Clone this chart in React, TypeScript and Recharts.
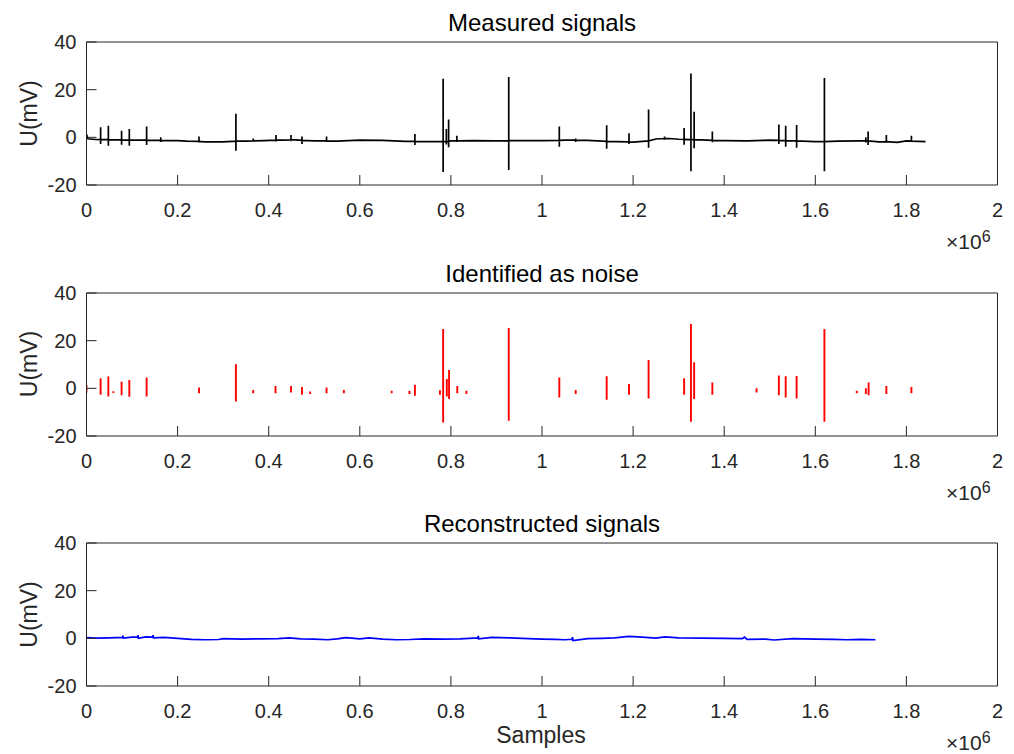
import { LineChart, Line, XAxis, YAxis } from "recharts";

// x values are in units of 1e6 samples
const xTicks = [0, 0.2, 0.4, 0.6, 0.8, 1, 1.2, 1.4, 1.6, 1.8, 2];
const yTicks = [-20, 0, 20, 40];
const titles = ["Measured signals", "Identified as noise", "Reconstructed signals"];

// slow baseline of the measured signal: [x, U]
const measuredBase: [number, number][] = [
  [0, 1.3], [0.003, -0.6], [0.02, -0.9], [0.065, -1.1], [0.11, -1.2], [0.15, -1.3],
  [0.2, -1.4], [0.22, -1.6], [0.26, -1.9], [0.3, -1.9], [0.35, -1.6], [0.39, -1.4],
  [0.43, -1.2], [0.46, -1.1], [0.5, -1.5], [0.55, -1.6], [0.6, -1.2], [0.65, -1.3],
  [0.7, -1.7], [0.75, -1.8], [0.8, -1.5], [0.85, -1.4], [0.9, -1.5], [0.95, -1.4],
  [1.0, -1.4], [1.05, -1.2], [1.1, -1.3], [1.16, -1.8], [1.2, -2.0], [1.25, -0.7],
  [1.28, -0.5], [1.3, -0.8], [1.35, -1.1], [1.4, -1.4], [1.45, -1.5], [1.5, -1.2],
  [1.55, -1.5], [1.6, -1.8], [1.65, -1.6], [1.7, -1.5], [1.74, -1.9], [1.78, -2.1],
  [1.8, -1.5], [1.842, -1.8],
];

// spikes in the measured signal: [x, baseline, top, bottom]
const measuredSpikes: [number, number, number, number][] = [
  [0.031, -1.0, 4.2, -2.8], [0.048, -1.0, 4.9, -3.5], [0.077, -1.1, 2.8, -3.1],
  [0.094, -1.2, 3.5, -3.5], [0.132, -1.2, 4.5, -3.2], [0.163, -1.3, 0.0, -2.0],
  [0.247, -1.7, 0.3, -2.2], [0.328, -1.6, 9.9, -5.6], [0.366, -1.5, -0.5, -2.0],
  [0.416, -1.2, 1.0, -1.8], [0.449, -1.1, 1.0, -1.6], [0.473, -1.3, 0.4, -2.8],
  [0.527, -1.5, 0.3, -2.0], [0.721, -1.7, 1.4, -3.2], [0.783, -1.8, 24.6, -14.5],
  [0.79, -1.8, 3.5, -3.0], [0.795, -1.7, 7.5, -4.2], [0.813, -1.5, 0.7, -2.0],
  [0.927, -1.4, 25.3, -13.7], [1.038, -1.3, 4.5, -3.9], [1.074, -1.2, -0.5, -2.0],
  [1.142, -1.7, 5.1, -4.8], [1.191, -1.9, 1.7, -2.8], [1.234, -1.5, 11.7, -4.4],
  [1.269, -0.5, 0.4, -1.0], [1.312, -0.9, 3.9, -3.1], [1.327, -1.0, 26.8, -14.2],
  [1.334, -1.0, 10.7, -4.6], [1.374, -1.3, 2.4, -2.1], [1.52, -1.3, 5.4, -2.8],
  [1.535, -1.4, 4.9, -3.9], [1.559, -1.5, 5.2, -4.4], [1.62, -1.8, 24.9, -14.2],
  [1.711, -1.5, 0.0, -2.2], [1.716, -1.5, 2.4, -3.2], [1.756, -1.8, 1.0, -2.2],
  [1.811, -1.6, 0.7, -2.0],
];

// segments identified as noise: [x, top, bottom]
const noiseSpikes: [number, number, number][] = [
  [0.0, 1.4, -1.7], [0.031, 4.2, -2.7], [0.048, 5.0, -3.4], [0.059, -1.2, -2.0],
  [0.077, 2.8, -2.9], [0.094, 3.5, -3.5], [0.132, 4.5, -3.4], [0.247, 0.4, -2.1],
  [0.328, 10.1, -5.5], [0.366, -0.7, -2.1], [0.415, 1.0, -2.1], [0.449, 1.0, -1.7],
  [0.473, 0.6, -2.7], [0.491, -1.3, -2.4], [0.527, 0.4, -2.1], [0.565, -0.7, -2.1],
  [0.67, -1.0, -2.1], [0.709, -1.0, -2.4], [0.721, 1.5, -3.1], [0.776, -0.8, -2.7],
  [0.783, 24.9, -14.3], [0.791, 3.9, -3.4], [0.796, 7.7, -4.5], [0.814, 1.0, -2.1],
  [0.834, -1.0, -2.4], [0.927, 25.3, -13.6], [1.038, 4.5, -3.8], [1.074, -0.7, -2.4],
  [1.142, 5.1, -4.8], [1.191, 1.8, -2.7], [1.234, 11.9, -4.3], [1.312, 4.2, -2.7],
  [1.327, 27.0, -14.0], [1.334, 10.9, -4.5], [1.374, 2.5, -2.7], [1.471, 0.0, -1.7],
  [1.52, 5.4, -2.9], [1.535, 5.1, -3.8], [1.559, 5.2, -4.3], [1.62, 24.9, -14.0],
  [1.691, -1.0, -2.1], [1.711, 0.0, -2.4], [1.717, 2.5, -2.9], [1.756, 1.0, -2.4],
  [1.811, 0.6, -2.1],
];

// reconstructed signal: [x, U]
const reconstructed: [number, number][] = [
  [0, 0.3], [0.02, 0.1], [0.05, 0.2], [0.079, 0.4], [0.08, 1.1], [0.081, 0.1],
  [0.1, 0.5], [0.112, 0.5], [0.113, 1.3], [0.114, 0.0], [0.13, 0.6], [0.145, 0.5],
  [0.146, 1.3], [0.147, 0.2], [0.17, 0.4], [0.2, 0.0], [0.23, -0.4], [0.26, -0.6],
  [0.29, -0.5], [0.3, -0.1], [0.34, -0.3], [0.38, -0.2], [0.42, -0.1], [0.445, 0.2],
  [0.47, -0.2], [0.5, -0.3], [0.53, -0.6], [0.55, -0.2], [0.57, 0.3], [0.6, -0.2],
  [0.62, 0.2], [0.65, -0.3], [0.68, -0.6], [0.71, -0.5], [0.74, -0.2], [0.78, -0.3],
  [0.82, -0.2], [0.85, 0.1], [0.859, 0.2], [0.86, 1.0], [0.861, -0.2], [0.89, 0.4],
  [0.93, 0.2], [0.97, -0.1], [1.0, -0.3], [1.03, -0.4], [1.05, -0.6], [1.066, -0.4],
  [1.067, 0.5], [1.068, -0.9], [1.1, -0.1], [1.13, 0.0], [1.16, 0.2], [1.19, 0.8],
  [1.22, 0.5], [1.25, 0.1], [1.27, 0.6], [1.3, 0.2], [1.35, 0.1], [1.4, 0.0],
  [1.44, -0.1], [1.445, 0.5], [1.45, -0.4], [1.49, -0.3], [1.51, -0.7], [1.55, -0.1],
  [1.6, -0.3], [1.64, -0.4], [1.67, -0.6], [1.7, -0.4], [1.732, -0.6],
];

type Pt = { x: number; y: number | null };

const measuredData: Pt[] = [
  ...measuredBase.map(([x, y]) => ({ x, y, k: 0 })),
  ...measuredSpikes.flatMap(([x, b, hi, lo]) => [
    { x, y: b, k: 0 },
    { x, y: hi, k: 1 },
    { x, y: lo, k: 2 },
    { x, y: b, k: 3 },
  ]),
]
  .sort((a, b) => a.x - b.x || a.k - b.k)
  .map(({ x, y }) => ({ x, y }));

const noiseData: Pt[] = noiseSpikes.flatMap(([x, hi, lo]) => [
  { x, y: hi },
  { x, y: lo },
  { x, y: null },
]);

const reconData: Pt[] = reconstructed.map(([x, y]) => ({ x, y }));

const AX = "#262626";
const FONT = "'Liberation Sans', Arial, Helvetica, sans-serif";
const plotTops = [42, 292.5, 543];
const PLOT_H = 143;

function Panel({ top, data, color, width }: { top: number; data: Pt[]; color: string; width: number }) {
  return (
    <div style={{ position: "absolute", left: 0, top: top - 42 }}>
      <LineChart
        width={1014}
        height={230}
        data={data}
        margin={{ top: 41, right: 15.5, bottom: 0, left: 26.5 }}
        style={{ fontFamily: FONT }}
      >
        <XAxis
          dataKey="x"
          type="number"
          domain={[0, 2]}
          ticks={xTicks}
          interval={0}
          allowDataOverflow
          height={45}
          tickSize={-10}
          tickMargin={28}
          stroke={AX}
          tick={{ fill: AX, fontSize: 20 }}
        />
        <XAxis
          xAxisId="top"
          dataKey="x"
          orientation="top"
          type="number"
          domain={[0, 2]}
          ticks={xTicks}
          interval={0}
          allowDataOverflow
          height={1}
          tickSize={-10}
          tick={false}
          stroke={AX}
        />
        <YAxis
          type="number"
          domain={[-20, 40]}
          ticks={yTicks}
          interval={0}
          allowDataOverflow
          width={60}
          tickSize={-10}
          tickMargin={20}
          stroke={AX}
          tick={{ fill: AX, fontSize: 20 }}
        />
        <YAxis
          yAxisId="right"
          orientation="right"
          type="number"
          domain={[-20, 40]}
          ticks={yTicks}
          interval={0}
          allowDataOverflow
          width={1}
          tickSize={-10}
          tick={false}
          stroke={AX}
        />
        <Line
          dataKey="y"
          type="linear"
          stroke={color}
          strokeWidth={width}
          dot={false}
          connectNulls={false}
          isAnimationActive={false}
        />
        {/* invisible twin so the top and right axes (the box) are drawn */}
        <Line
          xAxisId="top"
          yAxisId="right"
          dataKey="y"
          type="linear"
          stroke="none"
          dot={false}
          activeDot={false}
          legendType="none"
          isAnimationActive={false}
        />
      </LineChart>
    </div>
  );
}

export default function App() {
  return (
    <div
      style={{
        position: "absolute",
        left: 0,
        top: 0,
        width: 1014,
        height: 754,
        background: "#fff",
        fontFamily: FONT,
        overflow: "hidden",
      }}
    >
      <Panel top={plotTops[0]} data={measuredData} color="#000000" width={1.7} />
      <Panel top={plotTops[1]} data={noiseData} color="#ff0000" width={1.9} />
      <Panel top={plotTops[2]} data={reconData} color="#0000ff" width={1.7} />
      <svg
        width={1014}
        height={754}
        style={{ position: "absolute", left: 0, top: 0, pointerEvents: "none" }}
        fontFamily={FONT}
        fill={AX}
      >
        {plotTops.map((t, i) => (
          <g key={i}>
            <text x={542} y={t - 11} fontSize={24} textAnchor="middle" fill="#000">
              {titles[i]}
            </text>
            <text
              x={37}
              y={t + PLOT_H / 2}
              fontSize={23}
              textAnchor="middle"
              transform={`rotate(-90, 37, ${t + PLOT_H / 2})`}
            >
              U(mV)
            </text>
            <text x={946} y={t + PLOT_H + 64} fontSize={21}>
              <tspan>×</tspan>
              <tspan>10</tspan>
              <tspan fontSize={16} dy={-7}>6</tspan>
            </text>
          </g>
        ))}
        <text x={541} y={743} fontSize={23} textAnchor="middle">
          Samples
        </text>
      </svg>
    </div>
  );
}
